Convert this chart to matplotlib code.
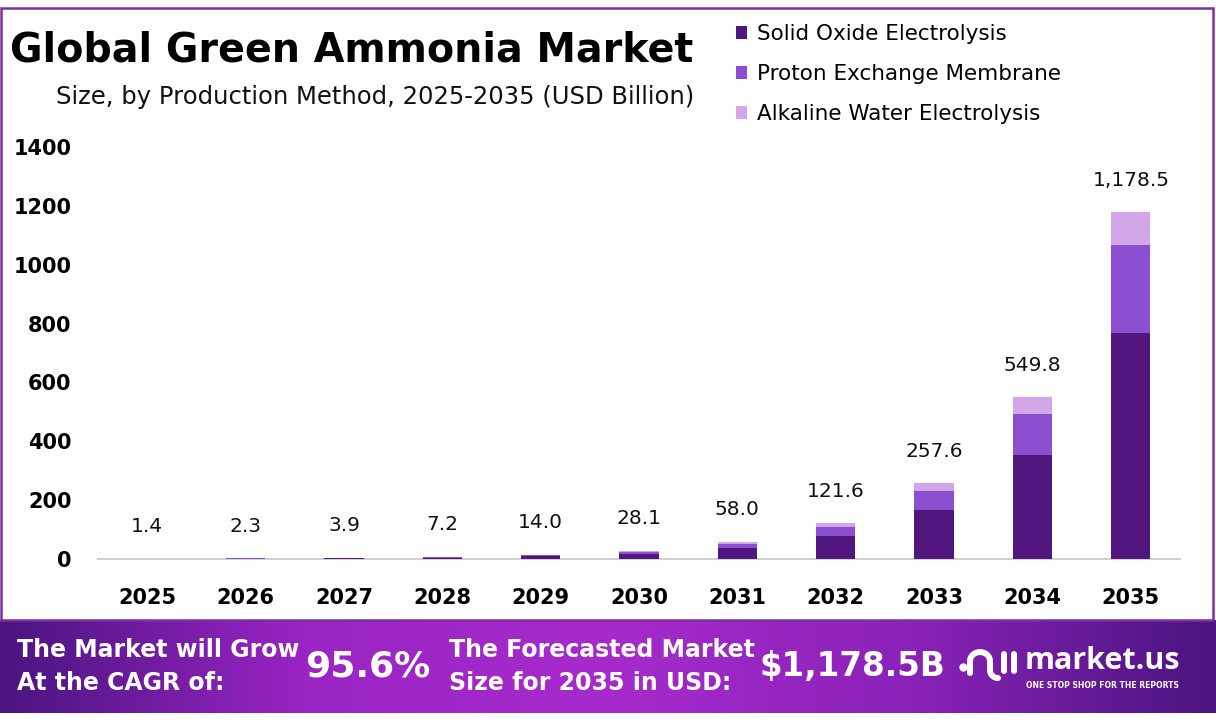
import matplotlib.pyplot as plt
import numpy as np
from matplotlib.patches import Rectangle
from matplotlib.colors import LinearSegmentedColormap

plt.rcParams['font.family'] = ['Open Sans', 'DejaVu Sans']
wide = ['DejaVu Sans']

# data (USD Billion)
years = ['2025', '2026', '2027', '2028', '2029', '2030', '2031', '2032', '2033', '2034', '2035']
totals = [1.4, 2.3, 3.9, 7.2, 14.0, 28.1, 58.0, 121.6, 257.6, 549.8, 1178.5]
solid_oxide = [0.91, 1.50, 2.53, 4.68, 9.1, 18.3, 37.7, 79.0, 166.4, 355.0, 768.8]
proton_exchange = [0.35, 0.57, 0.98, 1.80, 3.5, 7.0, 14.5, 30.4, 64.2, 138.5, 299.5]
alkaline_water = [0.14, 0.23, 0.39, 0.72, 1.4, 2.8, 5.8, 12.2, 27.0, 56.3, 110.2]
series_names = ['Solid Oxide Electrolysis', 'Proton Exchange Membrane', 'Alkaline Water Electrolysis']
colors = ['#52177f', '#8b4fcf', '#d3a6e8']
cagr = '95.6%'
forecast = '$1,178.5B'

fig = plt.figure(figsize=(12.16, 7.25), dpi=100)

# purple frame
fig.patches.append(Rectangle((0.001, 0.1448), 0.9965, 0.8442, transform=fig.transFigure,
                             fill=False, edgecolor='#7b2fa0', linewidth=1.8, zorder=0))

ax = fig.add_axes([0.0806, 0.229, 0.8898, 0.568])
x = np.arange(len(years))
bottom = np.zeros(len(years))
for vals, name, c in zip([solid_oxide, proton_exchange, alkaline_water], series_names, colors):
    ax.bar(x, vals, width=0.4, bottom=bottom, color=c, label=name, zorder=3)
    bottom += np.array(vals)

for xi, t in zip(x, totals):
    lbl = f'{t:,.1f}'
    ax.annotate(lbl, (xi, t), xytext=(0, 23), textcoords='offset points',
                ha='center', va='center', fontsize=14.5, color='#111111', family=wide)

ax.set_xlim(-0.5, len(years) - 0.5)
ax.set_ylim(0, 1400)
ax.set_yticks(range(0, 1401, 200))
ax.set_xticks(x)
ax.set_xticklabels(years)
for s in ['top', 'right', 'left']:
    ax.spines[s].set_visible(False)
ax.spines['bottom'].set_color('#d0d0d0')
ax.spines['bottom'].set_linewidth(1.5)
ax.tick_params(axis='both', length=0)
ax.tick_params(axis='y', pad=19, labelsize=15)
ax.tick_params(axis='x', pad=21, labelsize=15)
for lab in ax.get_xticklabels() + ax.get_yticklabels():
    lab.set_fontweight('bold')
    lab.set_family(wide)

# titles
fig.text(0.008, 0.931, 'Global Green Ammonia Market', fontsize=28.5, fontweight='bold',
         ha='left', va='center', color='#000000', family=wide)
fig.text(0.571, 0.866, 'Size, by Production Method, 2025-2035 (USD Billion)', fontsize=17.5,
         ha='right', va='center', color='#111111', family=wide)

# legend
leg = fig.legend(loc='upper left', bbox_to_anchor=(0.589, 0.994), frameon=False,
                 prop={'family': wide, 'size': 15.5}, handlelength=0.55, handleheight=0.55,
                 handletextpad=0.45, labelspacing=0.93)

# footer gradient
fax = fig.add_axes([0, 0.0166, 1, 0.128])
cmap = LinearSegmentedColormap.from_list('ft', ['#4a1580', '#9a24c4', '#a72bcc', '#8a22b8', '#4a1580'])
fax.imshow(np.linspace(0, 1, 256).reshape(1, -1), aspect='auto', cmap=cmap, extent=[0, 1, 0, 1])
fax.set_xlim(0, 1)
fax.set_ylim(0, 1)
fax.axis('off')

fax.text(0.014, 0.5, 'The Market will Grow\nAt the CAGR of:', color='white', fontsize=17,
         fontweight='bold', ha='left', va='center', linespacing=1.5, family=wide)
fax.text(0.251, 0.5, cagr, color='white', fontsize=26, fontweight='bold', ha='left', va='center',
         family=wide)
fax.text(0.369, 0.5, 'The Forecasted Market\nSize for 2035 in USD:', color='white', fontsize=17,
         fontweight='bold', ha='left', va='center', linespacing=1.5, family=wide)
fax.text(0.625, 0.5, forecast, color='white', fontsize=23.5, fontweight='bold', ha='left', va='center',
         family=wide)

# logo icon, drawn in pixel units of the footer
def px(xp, yp):
    return np.asarray(xp) / 1216, (713 - np.asarray(yp)) / 93

t = np.linspace(np.pi, 0, 30)
arch_x = np.concatenate([[970, 970], 980 + 10 * np.cos(t), [990]])
arch_y = np.concatenate([[673, 661], 661 - 9 * np.sin(t), [670]])
t2 = np.linspace(np.pi, np.pi / 2, 15)
arch_x = np.concatenate([arch_x, 998 + 8 * np.cos(t2)])
arch_y = np.concatenate([arch_y, 670 + 8 * np.sin(t2)])
fax.plot(*px(arch_x, arch_y), color='white', lw=4.3, solid_capstyle='round')
fax.plot(*px([1004, 1004], [654, 671]), color='white', lw=4.3, solid_capstyle='round')
fax.plot(*px([1014, 1014], [654, 671]), color='white', lw=4.3, solid_capstyle='round')
fax.plot(*px([963], [667]), 'o', color='white', ms=5)

fax.text(0.843, 0.56, 'market.us', color='white', fontsize=22, fontweight='bold',
         ha='left', va='center')
fax.text(0.844, 0.30, 'ONE STOP SHOP FOR THE REPORTS', color='white', fontsize=5.5,
         fontweight='bold', ha='left', va='center', family=wide)

fig.savefig('out.png', dpi=100)
